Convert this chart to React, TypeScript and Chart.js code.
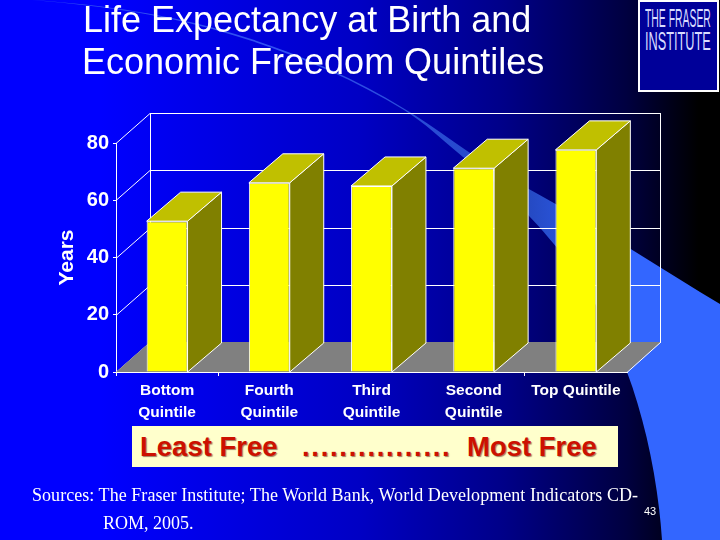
import { useEffect, useRef } from "react"
import { Chart, registerables } from "chart.js"

Chart.register(...registerables)

const categories = [["Bottom", "Quintile"], ["Fourth", "Quintile"], ["Third", "Quintile"], ["Second", "Quintile"], "Top Quintile"]
const lifeExpectancy = [52.7, 66.1, 65, 71.2, 77.6]
const tickedCategories = [0, 1, 4]

const SANS = '"Liberation Sans", Arial, sans-serif'
const SERIF = '"Liberation Serif", "Times New Roman", serif'

// the chart.js bars are flat, so the fake 3d walls and bar sides go on here
const fake3d = {
  id: "fake3d",
  beforeDatasetsDraw(chart: any) {
    const { ctx, chartArea, scales } = chart
    const { left, right } = chartArea
    const y = scales.y
    const wallX = 34
    const wallY = 30
    const barX = 34
    const barY = 29
    const y0 = y.getPixelForValue(0)
    const yMax = y.getPixelForValue(80)

    ctx.save()
    ctx.lineWidth = 1
    ctx.strokeStyle = "#ffffff"

    // gridlines along the left wall and the back wall
    y.ticks.forEach((t: any) => {
      const py = Math.round(y.getPixelForValue(t.value)) + 0.5
      ctx.beginPath()
      ctx.moveTo(left, py)
      ctx.lineTo(left + wallX, py - wallY)
      ctx.lineTo(right + wallX, py - wallY)
      ctx.stroke()
    })
    ctx.beginPath()
    ctx.moveTo(left + wallX + 0.5, yMax - wallY)
    ctx.lineTo(left + wallX + 0.5, y0 - wallY)
    ctx.moveTo(right + wallX - 0.5, yMax - wallY)
    ctx.lineTo(right + wallX - 0.5, y0 - wallY)
    ctx.stroke()

    // floor
    ctx.fillStyle = "#808080"
    ctx.beginPath()
    ctx.moveTo(left, y0)
    ctx.lineTo(left + wallX, y0 - wallY)
    ctx.lineTo(right + wallX, y0 - wallY)
    ctx.lineTo(right, y0)
    ctx.closePath()
    ctx.fill()
    ctx.beginPath()
    ctx.moveTo(left, y0 + 0.5)
    ctx.lineTo(right, y0 + 0.5)
    ctx.lineTo(right + wallX, y0 - wallY)
    ctx.stroke()

    // side and top of each bar
    chart.getDatasetMeta(0).data.forEach((bar: any) => {
      const { x, y: top, width } = bar.getProps(["x", "y", "width"], true)
      const l = x - width / 2
      const r = x + width / 2
      ctx.fillStyle = "#808000"
      ctx.beginPath()
      ctx.moveTo(r, top)
      ctx.lineTo(r + barX, top - barY)
      ctx.lineTo(r + barX, y0 - barY)
      ctx.lineTo(r, y0)
      ctx.closePath()
      ctx.fill()
      ctx.stroke()
      ctx.fillStyle = "#c0c000"
      ctx.beginPath()
      ctx.moveTo(l, top)
      ctx.lineTo(l + barX, top - barY)
      ctx.lineTo(r + barX, top - barY)
      ctx.lineTo(r, top)
      ctx.closePath()
      ctx.fill()
      ctx.stroke()
    })
    ctx.restore()
  },
}

function FreedomChart() {
  const chartRef = useRef<HTMLCanvasElement>(null)

  useEffect(() => {
    if (!chartRef.current) return
    const chart = new Chart(chartRef.current, {
      type: "bar",
      data: {
        labels: categories,
        datasets: [
          {
            data: lifeExpectancy,
            backgroundColor: "#ffff00",
            borderColor: "#ffffff",
            borderWidth: 1,
            barPercentage: 0.4,
            categoryPercentage: 1,
          },
        ],
      },
      options: {
        responsive: false,
        animation: false,
        layout: { padding: { top: 143, right: 93, bottom: 0, left: 0 } },
        plugins: { legend: { display: false }, tooltip: { enabled: false } },
        scales: {
          x: {
            afterFit: (s: any) => {
              s.height = 168
            },
            border: { color: "#ffffff", width: 1 },
            grid: {
              drawOnChartArea: false,
              tickLength: 4,
              tickColor: (c: any) => (tickedCategories.includes(c.index) ? "#ffffff" : "transparent"),
            },
            ticks: {
              color: "#ffffff",
              maxRotation: 0,
              autoSkip: false,
              padding: 4,
              font: { family: SANS, size: 15.5, weight: "bold", lineHeight: 1.42 },
            },
          },
          y: {
            min: 0,
            max: 80,
            afterFit: (s: any) => {
              s.width = 116
            },
            border: { color: "#ffffff", width: 1 },
            grid: { drawOnChartArea: false, tickLength: 3, tickColor: "#ffffff" },
            ticks: {
              stepSize: 20,
              color: "#ffffff",
              padding: 4,
              font: { family: SANS, size: 20, weight: "bold" },
            },
            title: {
              display: true,
              text: "Years",
              color: "#ffffff",
              padding: { top: 55, bottom: 0 },
              font: { family: SANS, size: 21, weight: "bold" },
            },
          },
        },
      },
      plugins: [fake3d],
    } as any)
    return () => chart.destroy()
  }, [])

  return <canvas ref={chartRef} width={720} height={540} style={{ position: "absolute", left: 0, top: 0 }} />
}

function Text({ x, y, style, children }: any) {
  return (
    <div style={{ position: "absolute", left: x, top: y, whiteSpace: "pre", ...style }}>{children}</div>
  )
}

export default function App() {
  return (
    <div
      style={{
        position: "absolute",
        left: 0,
        top: 0,
        width: 720,
        height: 540,
        overflow: "hidden",
        background:
          "linear-gradient(to right, #0000ff 0%, #0000ff 14%, #0000c4 50%, #000088 70%, #000040 87%, #000000 97%)",
      }}
    >
      <svg width={720} height={540} style={{ position: "absolute", left: 0, top: 0 }}>
        <defs>
          <linearGradient id="swoosh" gradientUnits="userSpaceOnUse" x1={300} y1={0} x2={620} y2={0}>
            <stop offset="0" stopColor="#3050f0" />
            <stop offset="0.7" stopColor="#2448c0" />
            <stop offset="1" stopColor="#3366ff" />
          </linearGradient>
        </defs>
        <path
          d="M32 0 C110 5 170 16 214 28 C280 46 345 72 403 108 C440 130 480 163 527 188 C590 222 660 268 720 304 L720 540 L662 540 C658 480 645 420 627 372 C608 320 580 275 553 243 C530 215 490 175 463 157 C440 138 425 123 404 110 C345 74 280 48 214 29.5 C170 17 110 6 32 0 Z"
          fill="url(#swoosh)"
        />
      </svg>

      <FreedomChart />

      <Text x={83} y={0} style={{ font: `36px ${SANS}`, color: "#fff", lineHeight: "40px" }}>
        Life Expectancy at Birth and
      </Text>
      <Text x={82} y={42} style={{ font: `36px ${SANS}`, color: "#fff", lineHeight: "40px" }}>
        Economic Freedom Quintiles
      </Text>

      <div style={{ position: "absolute", left: 638, top: 0, width: 77, height: 88, background: "#000099", border: "2px solid #ffffff" }} />
      <Text x={645} y={3} style={{ font: `26px ${SANS}`, lineHeight: "30px", color: "#d8dcff", transform: "scaleX(0.4)", transformOrigin: "left top" }}>
        THE FRASER
      </Text>
      <Text x={645} y={26} style={{ font: `26px ${SANS}`, lineHeight: "30px", color: "#d8dcff", transform: "scaleX(0.49)", transformOrigin: "left top" }}>
        INSTITUTE
      </Text>

      <div style={{ position: "absolute", left: 132, top: 426, width: 486, height: 41, background: "#ffffcc" }} />
      <Text x={140} y={431} style={{ font: `bold 27.5px ${SANS}`, lineHeight: "32px", color: "#cc1100", textShadow: "1px 1px 1px #a08060" }}>
        Least Free
      </Text>
      <Text x={302} y={431} style={{ font: `bold 27.5px ${SANS}`, lineHeight: "32px", letterSpacing: 1.7, color: "#cc1100", textShadow: "1px 1px 1px #a08060" }}>
        ................
      </Text>
      <Text x={467} y={431} style={{ font: `bold 27.5px ${SANS}`, lineHeight: "32px", color: "#cc1100", textShadow: "1px 1px 1px #a08060" }}>
        Most Free
      </Text>

      <Text x={32} y={484} style={{ font: `18px ${SERIF}`, lineHeight: "22px", letterSpacing: 0.05, color: "#fff" }}>
        Sources: The Fraser Institute; The World Bank, World Development Indicators CD-
      </Text>
      <Text x={103} y={512} style={{ font: `18px ${SERIF}`, lineHeight: "22px", color: "#fff" }}>
        ROM, 2005.
      </Text>
      <Text x={644} y={504} style={{ font: `11px ${SANS}`, lineHeight: "14px", color: "#fff" }}>
        43
      </Text>
    </div>
  )
}
